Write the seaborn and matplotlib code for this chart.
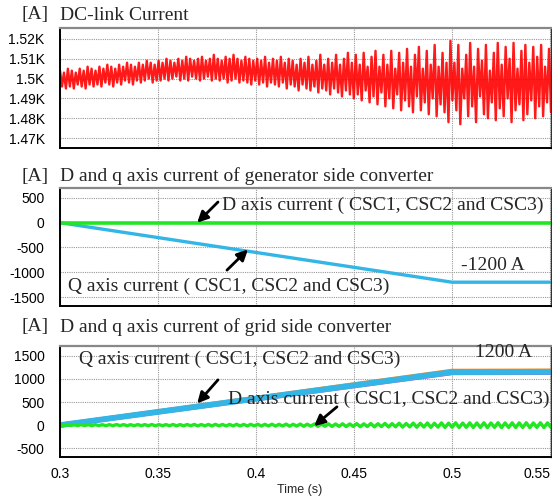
import numpy as np
import matplotlib
matplotlib.use("Agg")
import matplotlib.pyplot as plt
import seaborn as sns

# ---- data ----
# DC-link current: peaks / troughs of the ripple (A), one pair per ripple cycle
dc_hi = [1504, 1503, 1505, 1504, 1503, 1505, 1504, 1506, 1505, 1504, 1506, 1505, 1507, 1506, 1505,
         1507, 1506, 1508, 1507, 1506, 1508, 1507, 1509, 1508, 1507,
         1509, 1508, 1510, 1509, 1508, 1510, 1509, 1511, 1510, 1509, 1510, 1511, 1509, 1510, 1512,
         1510, 1509, 1511, 1510, 1512, 1510, 1509, 1511, 1510, 1509,
         1510, 1509, 1511, 1508, 1510, 1509, 1511, 1508, 1510, 1509, 1507, 1510, 1508, 1511, 1507,
         1509, 1512, 1507, 1510, 1508, 1512, 1507, 1510, 1513, 1508,
         1512, 1507, 1513, 1506, 1511, 1514, 1506, 1512, 1507, 1514, 1505, 1513, 1508, 1515, 1506,
         1512, 1516, 1505, 1514, 1507, 1517, 1506, 1513, 1508, 1519,
         1508, 1517, 1505, 1512, 1518, 1506, 1515, 1509, 1517, 1504, 1513, 1518, 1507, 1516, 1510,
         1518, 1505, 1514, 1517, 1508, 1516, 1511, 1517, 1506, 1515]
dc_lo = [1496, 1495, 1496, 1495, 1497, 1496, 1495, 1497, 1496, 1497, 1496, 1498, 1497, 1496, 1498,
         1497, 1499, 1498, 1497, 1499, 1498, 1499, 1500, 1498, 1499,
         1499, 1500, 1499, 1500, 1501, 1499, 1500, 1499, 1501, 1500, 1499, 1500, 1501, 1499, 1500,
         1499, 1500, 1498, 1499, 1500, 1498, 1499, 1498, 1497, 1499,
         1497, 1498, 1496, 1498, 1497, 1496, 1498, 1495, 1497, 1496, 1494, 1497, 1495, 1494, 1496,
         1493, 1495, 1494, 1492, 1495, 1493, 1491, 1494, 1492, 1490,
         1492, 1489, 1494, 1488, 1491, 1487, 1493, 1486, 1490, 1485, 1492, 1484, 1489, 1486, 1483,
         1491, 1484, 1488, 1482, 1490, 1481, 1487, 1483, 1478, 1489,
         1484, 1477, 1490, 1481, 1486, 1478, 1491, 1482, 1480, 1488, 1479, 1485, 1481, 1490, 1478,
         1484, 1487, 1479, 1482, 1489, 1480, 1486, 1481, 1488, 1483]

# generator side converter (A)
gen_t = [0.3, 0.5, 0.55]
gen_q = [0, -1200, -1200]
gen_d = [0, 0, 0]

# grid side converter (A)
grid_t = [0.3, 0.5, 0.55]
grid_q = [0, 1150, 1155]
grid_q_csc1 = [0, 1170, 1175]
grid_q_csc2 = [0, 1135, 1140]
# D axis ripple peaks / troughs
grid_d_hi = [8, 10, 9, 11, 10, 12, 10, 11, 13, 12, 11, 13, 12, 14, 13, 12, 15, 13, 14, 16,
             14, 15, 17, 15, 16, 18, 16, 17, 19, 18, 20, 18, 22, 19, 24, 21, 26, 23, 28, 25,
             30, 27, 33, 29, 36, 31, 38, 34, 41, 37, 44, 40, 47, 42, 49, 44, 51, 46, 50, 48,
             52, 47, 53, 49, 51, 50, 53, 48, 52, 50]
grid_d_lo = [-9, -8, -10, -9, -11, -10, -12, -11, -10, -12, -13, -11, -12, -14, -12, -13, -15, -14, -13, -16,
             -15, -16, -14, -17, -16, -18, -17, -16, -19, -18, -20, -19, -23, -20, -25, -22, -27, -24, -29, -26,
             -31, -28, -34, -30, -37, -32, -39, -35, -42, -38, -45, -41, -48, -43, -50, -45, -52, -47, -51, -49,
             -53, -48, -54, -50, -52, -51, -54, -49, -53, -51]

x_ticks = [0.3, 0.35, 0.4, 0.45, 0.5, 0.55]
x_labels = ["0.3", "0.35", "0.4", "0.45", "0.5", "0.55"]
dc_ticks = [1470, 1480, 1490, 1500, 1510, 1520]
dc_labels = ["1.47K", "1.48K", "1.49K", "1.5K", "1.51K", "1.52K"]
gen_ticks = [-1500, -1000, -500, 0, 500]
grid_ticks = [-500, 0, 500, 1000, 1500]

legend_txt = "( CSC1, CSC2 and CSC3)"

# ---- style ----
sns.set_theme(style="white")
plt.rcParams["font.family"] = ["Liberation Sans", "DejaVu Sans"]
SERIF = ["Liberation Serif", "DejaVu Serif"]
FS = 14
RED = "#ff0000"
BLUE = "#33b5e5"
GREEN = "#22e622"

W, H = 552, 500
fig = plt.figure(figsize=(W / 100, H / 100), dpi=100)


def px_axes(top, bottom, left=60, right=551):
    return fig.add_axes([left / W, 1 - bottom / H, (right - left) / W, (bottom - top) / H])


def style_axes(ax, yticks, ylabels, ylim, show_x):
    ax.set_xlim(0.3, 0.5505)
    ax.set_ylim(*ylim)
    ax.set_xticks(x_ticks)
    ax.set_xticklabels(x_labels if show_x else [])
    ax.set_yticks(yticks)
    ax.set_yticklabels(ylabels)
    ax.tick_params(length=0, labelsize=10, colors="black")
    ax.tick_params(axis="y", pad=11)
    ax.tick_params(axis="x", pad=7)
    ax.grid(True, color="#999999", linestyle=(0, (1, 1)), linewidth=0.8)
    ax.set_xlabel("")
    ax.set_ylabel("")
    for side in ["left", "bottom"]:
        ax.spines[side].set_color("black")
        ax.spines[side].set_linewidth(1.4)
    ax.spines["top"].set_color("#888888")
    ax.spines["top"].set_linewidth(1.6)
    ax.spines["right"].set_color("#333333")
    ax.spines["right"].set_linewidth(1.0)


def panel_title(y, text):
    fig.text(22 / W, 1 - y / H, "[A]", family=SERIF, fontsize=FS, va="center")
    fig.text(60 / W, 1 - y / H, text, family=SERIF, fontsize=FS, va="center")


def arrow(ax, tip, tail):
    ax.annotate("", xy=tip, xytext=tail,
                arrowprops=dict(arrowstyle="-|>", color="black", lw=2.0,
                                mutation_scale=16, shrinkA=0, shrinkB=0))


# ---- panel 1: DC-link current ----
ax1 = px_axes(28, 148)
dc_vals = np.column_stack([dc_hi, dc_lo]).ravel()
dc_t = np.linspace(0.3, 0.5505, len(dc_vals))
sns.lineplot(x=dc_t, y=dc_vals, ax=ax1, color=RED, lw=1.7, alpha=0.9)
style_axes(ax1, dc_ticks, dc_labels, (1465, 1525.5), False)
panel_title(15, "DC-link Current")

# ---- panel 2: generator side converter ----
ax2 = px_axes(188, 306)
sns.lineplot(x=gen_t, y=gen_q, ax=ax2, color=BLUE, lw=2.4)
sns.lineplot(x=gen_t, y=gen_d, ax=ax2, color=GREEN, lw=2.6)
style_axes(ax2, gen_ticks, [str(v) for v in gen_ticks], (-1680, 700), False)
panel_title(176, "D and q axis current of generator side converter")
ax2.text(0.3827, 360, "D axis current " + legend_txt, family=SERIF, fontsize=FS, va="center")
arrow(ax2, (0.370, 0), (0.3806, 417))
ax2.text(0.3041, -1280, "Q axis current " + legend_txt, family=SERIF, fontsize=FS, va="center")
arrow(ax2, (0.3959, -540), (0.3852, -956))
ax2.text(0.5045, -855, "-1200 A", family=SERIF, fontsize=FS, va="center")

# ---- panel 3: grid side converter ----
ax3 = px_axes(346, 457)
sns.lineplot(x=grid_t, y=grid_q_csc1, ax=ax3, color="#ff8c1a", lw=3.5)
sns.lineplot(x=grid_t, y=grid_q_csc2, ax=ax3, color="#e040e0", lw=3.5)
sns.lineplot(x=grid_t, y=grid_q, ax=ax3, color=BLUE, lw=4.2)
gd_vals = np.column_stack([grid_d_hi, grid_d_lo]).ravel()
gd_t = np.linspace(0.3, 0.5505, len(gd_vals))
sns.lineplot(x=gd_t, y=gd_vals, ax=ax3, color=GREEN, lw=2.4)
style_axes(ax3, grid_ticks, [str(v) for v in grid_ticks], (-690, 1715), True)
ax3.get_xticklabels()[-1].set_horizontalalignment("right")
ax3.get_xticklabels()[-1].set_x(0.5505)
panel_title(327, "D and q axis current of grid side converter")
ax3.text(0.3097, 1434, "Q axis current " + legend_txt, family=SERIF, fontsize=FS, va="center")
arrow(ax3, (0.370, 470), (0.3806, 981))
ax3.text(0.3857, 549, "D axis current " + legend_txt, family=SERIF, fontsize=FS, va="center")
arrow(ax3, (0.4296, -20), (0.4413, 397))
ax3.text(0.5117, 1564, "1200 A", family=SERIF, fontsize=FS, va="center")

fig.text(300 / W, 1 - 490 / H, "Time (s)", fontsize=9, ha="center", va="center")

fig.savefig("out.png", dpi=100)
